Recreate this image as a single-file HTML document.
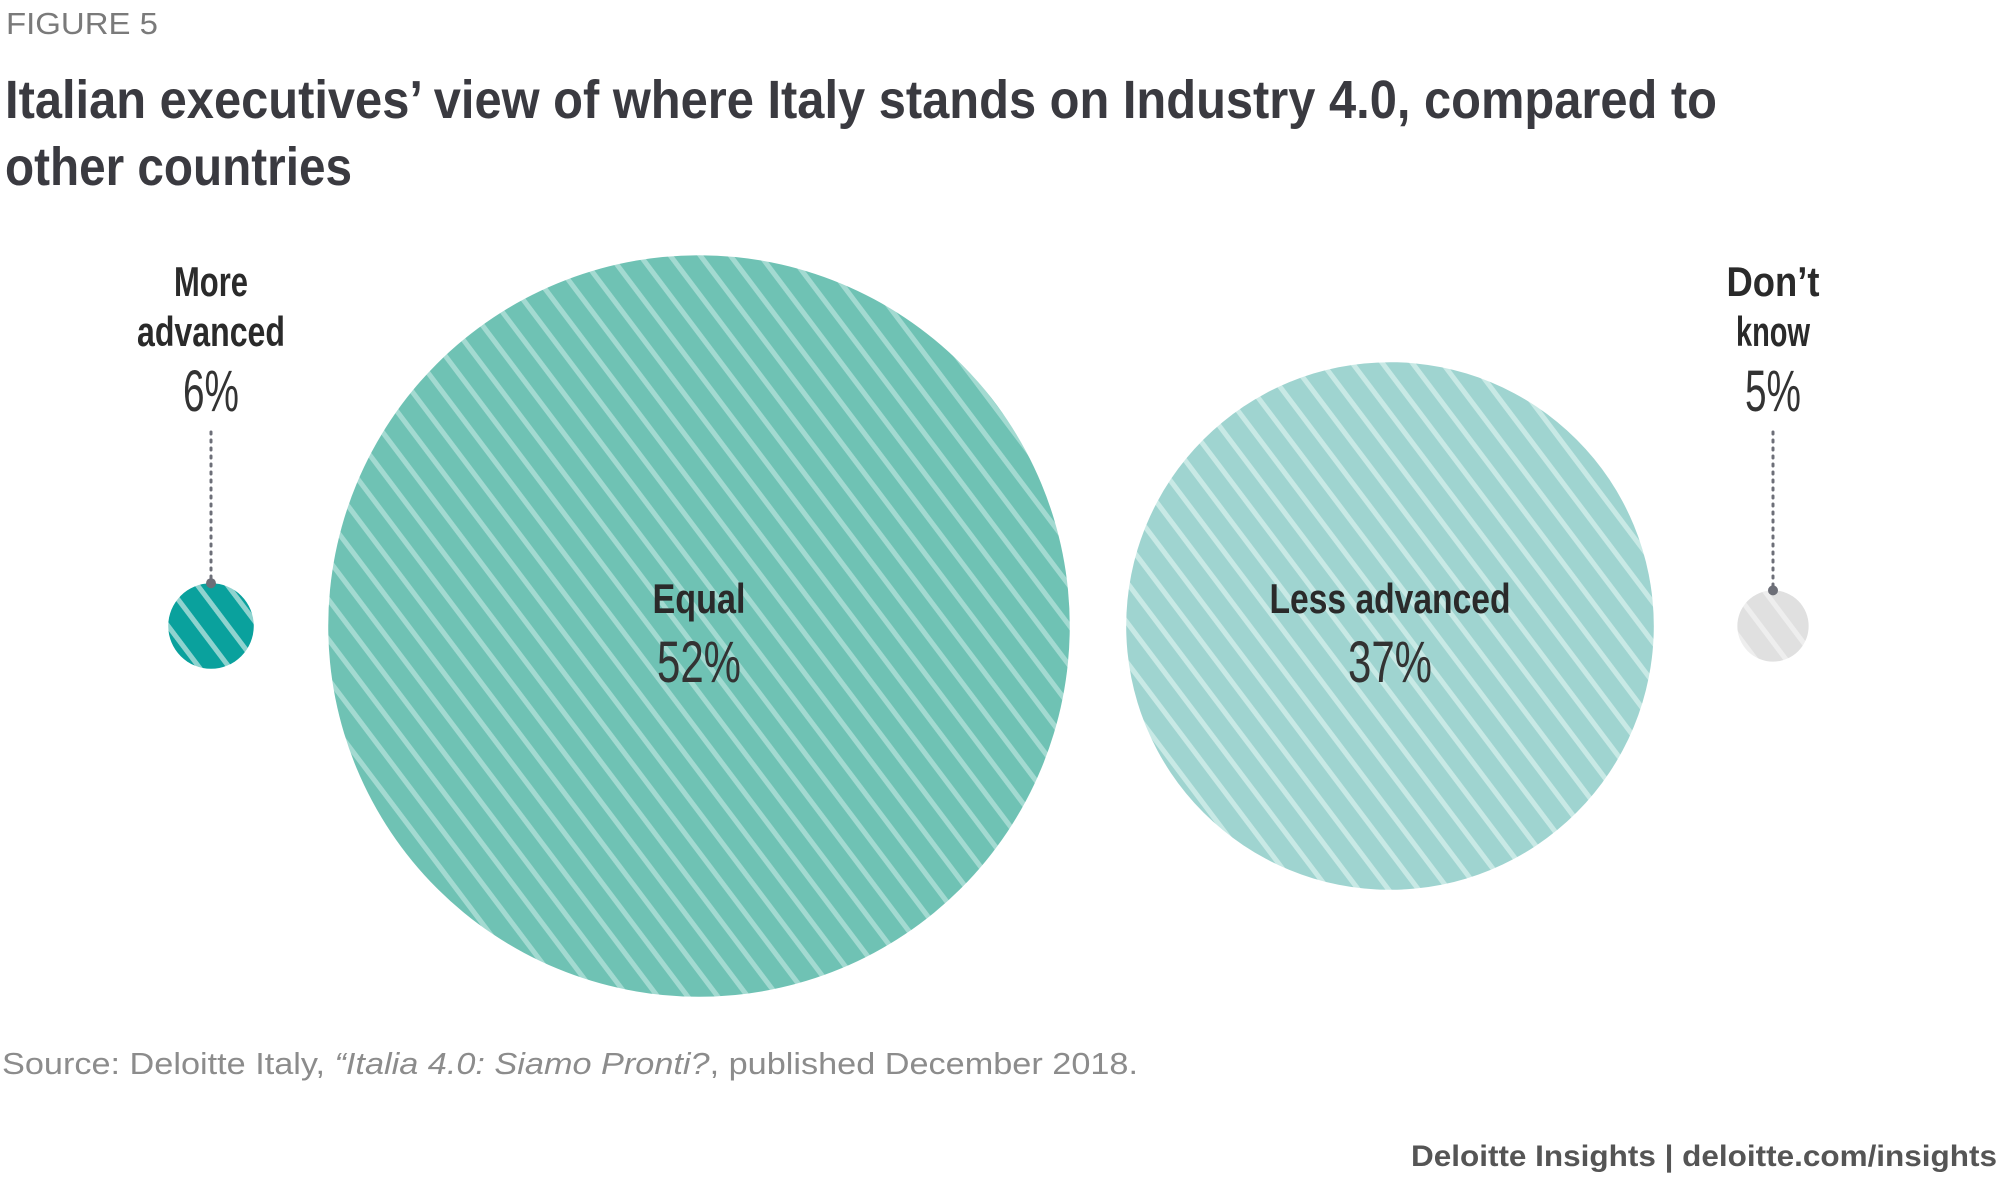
<!DOCTYPE html>
<html><head><meta charset="utf-8"><style>
html,body{margin:0;padding:0;background:#fff;}
svg{display:block;}
text{font-family:"Liberation Sans Narrow","Liberation Sans",sans-serif;}
</style></head><body>
<svg id="chart" width="2000" height="1185" viewBox="0 0 2000 1185">
<defs>
<pattern id="p0" patternUnits="userSpaceOnUse" width="24" height="24" patternTransform="rotate(53)"><rect width="24" height="24" fill="#0aa19d"/><rect width="24" height="5" fill="#8fd3cf"/></pattern>
<pattern id="p1" patternUnits="userSpaceOnUse" width="24" height="24" patternTransform="rotate(53)"><rect width="24" height="24" fill="#6fc2b4"/><rect width="24" height="5" fill="#a3dad1"/></pattern>
<pattern id="p2" patternUnits="userSpaceOnUse" width="24" height="24" patternTransform="rotate(53)"><rect width="24" height="24" fill="#9fd4d0"/><rect width="24" height="5" fill="#c8e9e5"/></pattern>
<pattern id="p3" patternUnits="userSpaceOnUse" width="24" height="24" patternTransform="rotate(53)"><rect width="24" height="24" fill="#e0e0e0"/><rect width="24" height="5" fill="#eeeeee"/></pattern>
</defs>
<text x="6" y="34" font-size="31" fill="#7a7a7a" textLength="152" lengthAdjust="spacingAndGlyphs">FIGURE 5</text>
<text x="5" y="118" font-size="54" font-weight="bold" fill="#3a3a40" textLength="1712" lengthAdjust="spacingAndGlyphs">Italian executives’ view of where Italy stands on Industry 4.0, compared to</text>
<text x="5" y="185" font-size="54" font-weight="bold" fill="#3a3a40" textLength="347" lengthAdjust="spacingAndGlyphs">other countries</text>
<g id="marks"></g>
<text x="2" y="1074" font-size="31" fill="#8c8c8c" font-family="Liberation Sans, sans-serif" textLength="1136" lengthAdjust="spacingAndGlyphs">Source: Deloitte Italy, <tspan font-style="italic">“Italia 4.0: Siamo Pronti?</tspan>, published December 2018.</text>
<text x="1997" y="1166" font-size="30" font-weight="bold" fill="#555" text-anchor="end" font-family="Liberation Sans, sans-serif" textLength="586" lengthAdjust="spacingAndGlyphs">Deloitte Insights | deloitte.com/insights</text>
</svg>
<script>
const categories = ["More advanced", "Equal", "Less advanced", "Don't know"];
const labelLines = [["More", "advanced"], ["Equal"], ["Less advanced"], ["Don’t", "know"]];
const values = [6, 52, 37, 5];
const valueLabels = ["6%", "52%", "37%", "5%"];
const NS = "http://www.w3.org/2000/svg";
const g = document.getElementById("marks");
const cxLayout = [211, 699, 1390, 1773];
const cy = 626;
function rScale(v){ return v * 7.13; }
function mk(tag, attrs){ const e = document.createElementNS(NS, tag); for (const k in attrs) e.setAttribute(k, attrs[k]); return e; }
function labW(s){ return Math.round(s.length * 18.5); }
function pctW(s){ return s.length * 28; }
values.forEach((v, i) => {
  const r = rScale(v), cx = cxLayout[i];
  const c = mk("circle", {cx: cx, cy: cy, r: r, fill: "url(#p" + i + ")"});
  
  
  g.appendChild(c);
  const inside = r > 100;
  const lines = labelLines[i];
  const baseY = inside ? cy - 13 : 296;
  lines.forEach((s, j) => {
    const t = mk("text", {x: cx, y: baseY + j * 50, "font-size": 42, "font-weight": "bold", fill: "#2a2a2a", "text-anchor": "middle", textLength: labW(s), lengthAdjust: "spacingAndGlyphs"});
    t.textContent = s;
    
    
    g.appendChild(t);
  });
  const p = mk("text", {x: cx, y: inside ? cy + 56 : 411, "font-size": 58, fill: "#333", "text-anchor": "middle", textLength: pctW(valueLabels[i]), lengthAdjust: "spacingAndGlyphs"});
  p.textContent = valueLabels[i];
  
  
  g.appendChild(p);
  if (!inside) {
    const ty = cy - r;
    const ln = mk("line", {x1: cx, y1: 432, x2: cx, y2: ty, stroke: "#6d6f78", "stroke-width": 3, "stroke-dasharray": "2 6", "stroke-linecap": "round"});
    
    
    g.appendChild(ln);
    const d = mk("circle", {cx: cx, cy: ty, r: 5, fill: "#6d6f78"});
    
    
    g.appendChild(d);
  }
});
</script>
</body></html>
